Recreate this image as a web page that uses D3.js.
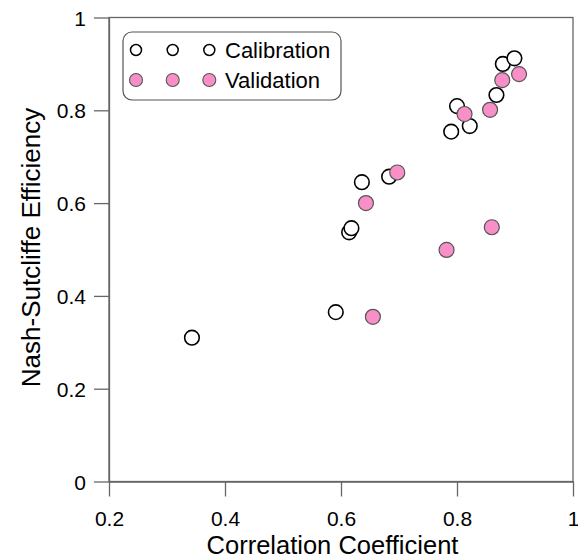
<!DOCTYPE html>
<html><head><meta charset="utf-8">
<script src="https://cdn.jsdelivr.net/npm/d3@7"></script>
<style>body{margin:0;background:#fff}svg{display:block}text{font-family:"Liberation Sans",Arial,sans-serif;fill:#000}</style>
</head><body><svg id="c" width="578" height="558"></svg>
<script>
const calibR = [0.343, 0.591, 0.614, 0.618, 0.636, 0.683, 0.790, 0.800, 0.822, 0.868, 0.879, 0.899];
const calibNSE = [0.310, 0.365, 0.537, 0.546, 0.645, 0.657, 0.754, 0.809, 0.766, 0.833, 0.900, 0.912];
const validR = [0.643, 0.697, 0.655, 0.782, 0.860, 0.813, 0.857, 0.878, 0.907];
const validNSE = [0.600, 0.666, 0.355, 0.499, 0.548, 0.792, 0.801, 0.865, 0.878];
const xTicks = [0.2, 0.4, 0.6, 0.8, 1];
const yTicks = [0, 0.2, 0.4, 0.6, 0.8, 1];
const seriesNames = ["Calibration", "Validation"];

const svg = d3.select("#c");
const L = 109, R = 573, T = 17.5, B = 481.5;
const x = d3.scaleLinear().domain([0.2, 1]).range([L, R]);
const y = d3.scaleLinear().domain([0, 1]).range([B, T]);
const axisColor = "#666";
const pink = "#f98fc7";

// frame
svg.append("rect").attr("x", L).attr("y", T).attr("width", R - L).attr("height", B - T)
  .attr("fill", "none").attr("stroke", axisColor).attr("stroke-width", 1.3);

const fmt = d => d === 0 || d === 1 ? String(d) : d.toFixed(1);
const xa = svg.append("g").attr("transform", `translate(0,${B})`)
  .call(d3.axisBottom(x).tickValues(xTicks).tickFormat(fmt).tickSize(15).tickSizeOuter(0));
const ya = svg.append("g").attr("transform", `translate(${L},0)`)
  .call(d3.axisLeft(y).tickValues(yTicks).tickFormat(fmt).tickSize(15).tickSizeOuter(0));
[xa, ya].forEach(a => {
  a.select(".domain").attr("stroke", axisColor).attr("stroke-width", 1.3);
  a.selectAll(".tick line").attr("stroke", axisColor).attr("stroke-width", 1.3);
  a.selectAll(".tick text").attr("font-size", 21).attr("font-family", '"Liberation Sans",Arial,sans-serif').attr("fill", "#000");
});
xa.selectAll(".tick text").attr("y", 44).attr("dy", 0);
ya.selectAll(".tick text").attr("x", -23).attr("dy", "0.36em");

svg.append("text").attr("x", 332.5).attr("y", 554).attr("text-anchor", "middle")
  .attr("font-size", 25.5).text("Correlation Coefficient");
svg.append("text").attr("transform", `translate(40,247.5) rotate(-90)`).attr("text-anchor", "middle")
  .attr("font-size", 26).text("Nash-Sutcliffe Efficiency");

// points
const calib = calibR.map((r, i) => ({ r, n: calibNSE[i] }));
const valid = validR.map((r, i) => ({ r, n: validNSE[i] }));
svg.append("g").selectAll("circle").data(calib).join("circle")
  .attr("cx", d => x(d.r)).attr("cy", d => y(d.n)).attr("r", 7.3)
  .attr("fill", "#fff").attr("stroke", "#000").attr("stroke-width", 1.6);
svg.append("g").selectAll("circle").data(valid).join("circle")
  .attr("cx", d => x(d.r)).attr("cy", d => y(d.n)).attr("r", 7.5)
  .attr("fill", pink).attr("stroke", "#555").attr("stroke-width", 1.2);

// legend
const lg = svg.append("g");
lg.append("rect").attr("x", 123).attr("y", 32).attr("width", 218).attr("height", 68)
  .attr("rx", 9).attr("fill", "#fff").attr("stroke", "#555").attr("stroke-width", 1.2);
const symX = [136, 172.7, 209.3];
seriesNames.forEach((name, i) => {
  const cy = 50 + i * 30;
  symX.forEach(sx => {
    lg.append("circle").attr("cx", sx).attr("cy", cy).attr("r", i === 0 ? 5.5 : 6.5)
      .attr("fill", i === 0 ? "#fff" : pink).attr("stroke", i === 0 ? "#000" : "#555")
      .attr("stroke-width", i === 0 ? 1.5 : 1.1);
  });
  lg.append("text").attr("x", 225).attr("y", cy).attr("dy", "0.36em").attr("font-size", 22).text(name);
});
</script></body></html>
